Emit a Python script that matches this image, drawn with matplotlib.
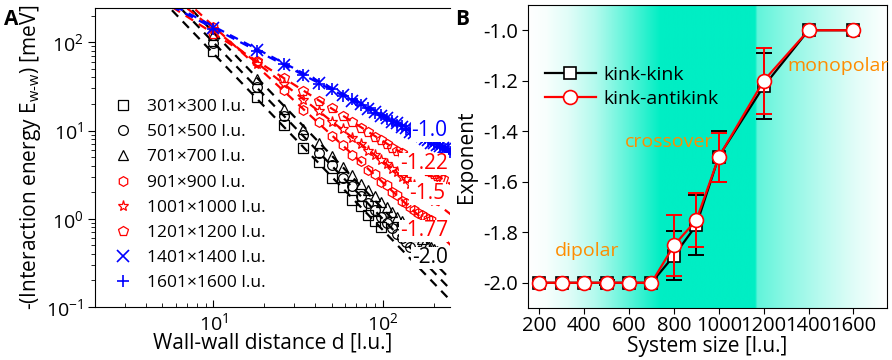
import numpy as np
import matplotlib.pyplot as plt

plt.rcParams['font.family'] = ['Open Sans', 'DejaVu Sans']
plt.rcParams['mathtext.fontset'] = 'custom'
plt.rcParams['mathtext.rm'] = 'Open Sans'
plt.rcParams['axes.unicode_minus'] = False

# ---------------- panel A data ----------------
d_steps = [10, 18, 26, 34, 42, 50, 58, 66, 74, 82, 90, 98, 106, 114, 122, 130,
           138, 146, 154, 162, 170, 178, 186, 194, 202, 210, 218, 226, 234, 242, 250]

e_301 = [80, 24, 11.5, 6.3, 4.4, 2.9, 2.3, 1.65, 1.4, 1.1, 0.95, 0.8]
e_501 = [98, 31, 14.5, 8.9, 5.5, 4.1, 2.9, 2.35, 1.8, 1.52, 1.25, 1.05, 0.9, 0.78,
         0.68, 0.6, 0.54, 0.48]
e_701 = [120, 38, 17.5, 10.5, 7.2, 5.1, 3.9, 3.1, 2.5, 2.1, 1.8, 1.55, 1.35, 1.2,
         1.05, 0.95, 0.86, 0.78, 0.7, 0.64, 0.59, 0.55, 0.51, 0.48, 0.45, 0.43, 0.41]
e_901 = [150, 60, 29, 17, 12.5, 8.6, 6.9, 5.3, 4.5, 3.6, 3.2, 2.6, 2.4, 2.0, 1.85,
         1.6, 1.5, 1.35, 1.25, 1.15, 1.1, 1.05, 1.0, 0.97]
e_1001 = [140, 57, 34, 22, 16.8, 12.5, 10.3, 8.2, 7.1, 5.9, 5.3, 4.6, 4.15, 3.65,
          3.35, 3.0, 2.8, 2.5, 2.4, 2.15, 2.05, 1.9, 1.8, 1.65, 1.6]
e_1201 = [125, 62, 39, 28, 21.5, 17.8, 14.5, 12.6, 10.8, 9.6, 8.5, 7.8, 7.0, 6.4,
          5.9, 5.5, 5.05, 4.75, 4.4, 4.2, 3.9, 3.75, 3.5, 3.35, 3.2, 3.05, 2.9, 2.8]
e_1401 = [146, 82, 56, 42, 35, 28.5, 25.5, 21.5, 20, 17.5, 16.3, 14.6, 13.9, 12.5,
          12.1, 11.0, 10.7, 9.7, 9.5, 8.8, 8.6, 8.0, 7.9, 7.3, 7.25, 6.8, 6.7, 6.3,
          6.25, 5.9, 5.85]
e_1601 = [142, 79, 57, 43, 34, 29.5, 24.5, 22.5, 19.3, 18, 15.8, 15.1, 13.4, 12.9,
          11.7, 11.4, 10.3, 10.1, 9.2, 9.1, 8.4, 8.3, 7.6, 7.6, 7.1, 7.0, 6.5, 6.5,
          6.1, 6.1, 5.7]

labels_A = ['301×300 l.u.', '501×500 l.u.', '701×700 l.u.', '901×900 l.u.',
            '1001×1000 l.u.', '1201×1200 l.u.', '1401×1400 l.u.', '1601×1600 l.u.']
energies_A = [e_301, e_501, e_701, e_901, e_1001, e_1201, e_1401, e_1601]
markers_A = ['s', 'o', '^', 'h', '*', 'p', 'x', '+']
colors_A = ['black', 'black', 'black', 'red', 'red', 'red', 'blue', 'blue']

# fitted power laws E = C * d**p
fit_prefactor = [7500, 10000, 13000, 9000, 4500, 2100, 1450, 1520]
fit_exponent = [-2.0, -2.0, -2.0, -1.77, -1.5, -1.22, -1.0, -1.0]
fit_range = [2, 300]

slope_text = ['-1.0', '-1.22', '-1.5', '-1.77', '-2.0']
slope_d = [148, 126, 144, 126, 149]
slope_e = [10, 4.2, 1.94, 0.73, 0.36]
slope_color = ['blue', 'red', 'red', 'red', 'black']

# ---------------- panel B data ----------------
sizes = [200, 300, 400, 500, 600, 700, 800, 900, 1000, 1200, 1400, 1600]
kink_kink = [-2.0, -2.0, -2.0, -2.0, -2.0, -2.0, -1.893, -1.772, -1.5, -1.222, -1.0, -1.0]
kink_kink_err = [0, 0, 0, 0.01, 0, 0, 0.097, 0.12, 0.1, 0.13, 0, 0]
kink_anti = [-2.0, -2.0, -2.0, -2.0, -2.0, -2.0, -1.852, -1.752, -1.502, -1.2, -1.0, -1.0]
kink_anti_err = [0, 0, 0, 0, 0, 0, 0.12, 0.107, 0.097, 0.13, 0, 0]

# background shading profile (x position, strength)
bg_x = [150, 230, 330, 450, 600, 740, 1160, 1170, 1300, 1450, 1600, 1750]
bg_s = [0.0, 0.03, 0.12, 0.3, 0.65, 1.0, 1.0, 0.62, 0.45, 0.28, 0.12, 0.0]
teal = np.array([0, 238, 196]) / 255

fig = plt.figure(figsize=(8.92, 3.6), dpi=100)

# ================= panel A =================
ax = fig.add_axes([0.1065, 0.1472, 0.398, 0.8306])
fd = np.array(fit_range, dtype=float)
for C, p, c in zip(fit_prefactor, fit_exponent, colors_A):
    ax.plot(fd, C * fd ** p, ls=(0, (4, 3)), color=c, lw=1.6, zorder=2)

for e, m, c, lab in zip(energies_A, markers_A, colors_A, labels_A):
    d = d_steps[:len(e)]
    if m in ('x', '+'):
        ax.plot(d, e, ls='none', marker=m, ms=9, mew=1.2, color=c, label=lab, zorder=3)
    else:
        ax.plot(d, e, ls='none', marker=m, ms=8 if m == '*' else 7, mfc='none',
                mec=c, mew=0.9, label=lab, zorder=3)

for t, x, y, c in zip(slope_text, slope_d, slope_e, slope_color):
    ax.text(x, y, t, color=c, fontsize=15, ha='left', va='center', clip_on=True,
            zorder=5, bbox=dict(facecolor='white', edgecolor='none', pad=0.5))

ax.set_xscale('log')
ax.set_yscale('log')
ax.set_xlim(2, 250)
ax.set_ylim(0.1, 245)
ax.spines['right'].set_visible(False)
ax.tick_params(which='both', direction='in', labelsize=14)
ax.tick_params(which='major', length=5)
ax.tick_params(which='minor', length=3)
ax.tick_params(axis='y', which='both', direction='out')
ax.set_xlabel('Wall-wall distance d [l.u.]', fontsize=15)
ax.xaxis.set_label_coords(0.5, -0.085)
ax.set_ylabel('-(Interaction energy E$_{\\mathrm{w‐w}}$) [meV]', fontsize=15, labelpad=2)
ax.legend(loc='upper left', bbox_to_anchor=(0.03, 0.725), frameon=False, fontsize=12.5,
          handlelength=1.0, handletextpad=0.9, labelspacing=0.52, borderpad=0)
fig.text(0.005, 0.975, 'A', fontsize=15, fontweight='bold', va='top')

# ================= panel B =================
bx = fig.add_axes([0.592, 0.1444, 0.4025, 0.8417])
xs = np.linspace(150, 1750, 800)
s = np.interp(xs, bg_x, bg_s)
img = (1 - s)[:, None] * np.ones(3) + s[:, None] * teal
bx.imshow(img[None, :, :], extent=[150, 1750, -2.1, -0.9], aspect='auto', zorder=0)

kk_i = [i for i, v in enumerate(kink_kink_err) if v > 0]
ka_i = [i for i, v in enumerate(kink_anti_err) if v > 0]
bx.errorbar([sizes[i] for i in kk_i], [kink_kink[i] for i in kk_i],
            yerr=[kink_kink_err[i] for i in kk_i], fmt='none', ecolor='black',
            elinewidth=1.4, capsize=6, capthick=1.4, zorder=2)
bx.plot(sizes, kink_kink, color='black', lw=1.6, marker='s', ms=8.5, mfc='white',
        mec='black', mew=1.2, zorder=3, label='kink-kink')
bx.errorbar([sizes[i] for i in ka_i], [kink_anti[i] for i in ka_i],
            yerr=[kink_anti_err[i] for i in ka_i], fmt='none', ecolor='red',
            elinewidth=1.4, capsize=6, capthick=1.4, zorder=4)
bx.plot(sizes, kink_anti, color='red', lw=1.6, marker='o', ms=10, mfc='white',
        mec='red', mew=1.2, zorder=5, label='kink-antikink')

orange = '#FF8C00'
bx.text(413, -1.874, 'dipolar', color=orange, fontsize=14, ha='center', va='center')
bx.text(779, -1.443, 'crossover', color=orange, fontsize=14, ha='center', va='center')
bx.text(1532, -1.142, 'monopolar', color=orange, fontsize=14, ha='center', va='center')

bx.set_xlim(150, 1750)
bx.set_ylim(-2.1, -0.9)
bx.set_xticks([200, 400, 600, 800, 1000, 1200, 1400, 1600])
bx.set_yticks([-2.0, -1.8, -1.6, -1.4, -1.2, -1.0])
bx.set_yticklabels(['-2.0', '-1.8', '-1.6', '-1.4', '-1.2', '-1.0'])
bx.tick_params(labelsize=14.5, length=4)
bx.tick_params(axis='x', pad=2)
bx.set_xlabel('System size [l.u.]', fontsize=15)
bx.xaxis.set_label_coords(0.5, -0.092)
bx.set_ylabel('Exponent', fontsize=15, labelpad=4)
bx.legend(loc='upper left', bbox_to_anchor=(0.02, 0.83), frameon=False, fontsize=14,
          handlelength=2.6, handletextpad=0.4, labelspacing=0.3, borderpad=0)
fig.text(0.51, 0.975, 'B', fontsize=15, fontweight='bold', va='top')

fig.savefig('out.png', dpi=100)
